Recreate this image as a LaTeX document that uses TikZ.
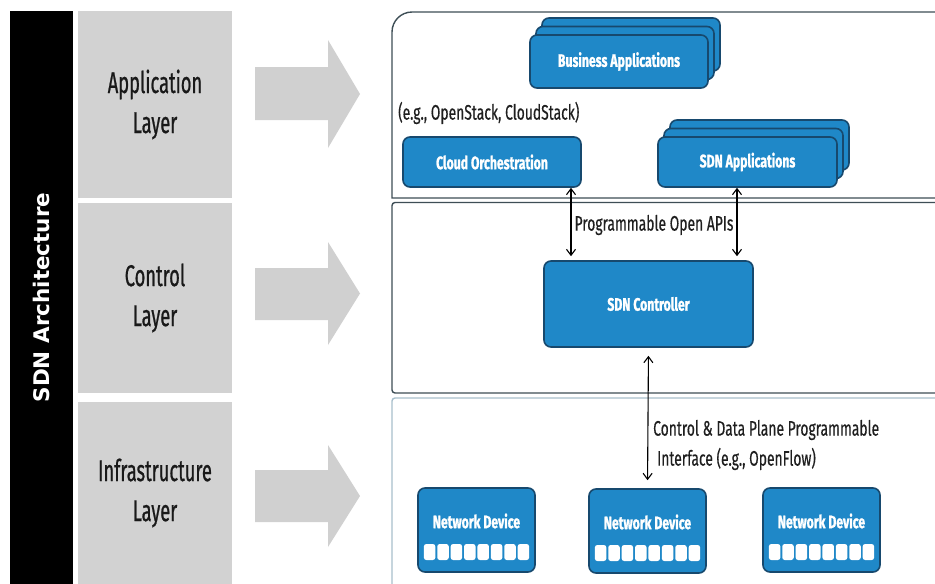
\documentclass[tikz,border=0pt]{standalone}
\usepackage{fontspec}
\setmainfont{Fira Sans}
\newfontfamily\boxfont[FakeStretch=0.68,FakeBold=1.2]{Fira Sans}
\newfontfamily\notefont[FakeStretch=0.66,FakeBold=0.4]{Fira Sans}
\newfontfamily\layerfont[FakeStretch=0.61,FakeBold=0.7]{Fira Sans}
\newfontfamily\widefont{DejaVu Sans}
\usetikzlibrary{arrows.meta,calc}

\definecolor{sdnblue}{HTML}{1F88C8}
\definecolor{sdnedge}{HTML}{17496E}
\definecolor{layergray}{HTML}{D2D2D2}
\definecolor{arrowgray}{HTML}{D0D0D0}
\definecolor{panelline}{HTML}{3E4E56}
\definecolor{panelblue}{HTML}{A8BFCC}

\begin{document}
\begin{tikzpicture}[x=1pt,y=-1pt,
  bluebox/.style={draw=sdnedge, line width=1.6pt, fill=sdnblue, rounded corners=7pt,
    inner sep=0pt, text=white, font=\boxfont\bfseries\fontsize{18}{20}\selectfont},
  boxtext/.style={text=white, inner sep=0pt, font=\boxfont\bfseries\fontsize{18}{20}\selectfont},
  layerbox/.style={fill=layergray, draw=none, inner sep=0pt, align=center,
    text=black!90, font=\layerfont\fontsize{30}{40}\selectfont},
  biarrow/.style={{Straight Barb[length=6pt,width=9pt]}-{Straight Barb[length=6pt,width=9pt]},
    line width=1.1pt},
  note/.style={inner sep=0pt, text=black!88, font=\notefont\fontsize{21}{30}\selectfont},
  port/.style={fill=white, rounded corners=2.5pt, minimum width=11.5pt,
    minimum height=16pt, inner sep=0pt},
  layerarrow/.style={fill=arrowgray, draw=none}
]
\useasboundingbox (0,0) rectangle (935,584);
\fill[white] (0,0) rectangle (935,584);

% left title bar
\node[fill=black, minimum width=63pt, minimum height=573pt, inner sep=0pt] (bar) at (41.5,297.5) {};
\node[rotate=90, text=white, font=\widefont\bfseries\fontsize{21.5}{24}\selectfont] (title) at (bar.center) {SDN Architecture};

% layer labels
\node[layerbox, minimum width=154pt, minimum height=187pt] (app) at (155,104.5) {Application\\Layer};
\node[layerbox, minimum width=154pt, minimum height=190pt] (ctl) at (155,298) {Control\\Layer};
\node[layerbox, minimum width=154pt, minimum height=182pt] (inf) at (155,493) {Infrastructure\\Layer};

% broad arrows pointing at each layer
\fill[layerarrow] (255,67) -- (328,67) -- (328,40) -- (360,94) -- (328,148) -- (328,120) -- (255,120) -- cycle;
\fill[layerarrow] (255,268) -- (328,268) -- (328,242) -- (360,293.5) -- (328,345) -- (328,320) -- (255,320) -- cycle;
\fill[layerarrow] (255,470) -- (328,470) -- (328,445) -- (360,496) -- (328,547) -- (328,522) -- (255,522) -- cycle;

% layer panels
\begin{scope}
\clip (0,0) rectangle (935,584);
\draw[panelline, line width=1.4pt] (940,12) -- (412,12) arc[start angle=270, end angle=180, radius=20] -- (392,198) -- (940,198);
\draw[panelline, line width=1.4pt, rounded corners=3pt] (940,202.5) -- (392,202.5) -- (392,393) -- (940,393);
\draw[panelblue, line width=1.4pt, rounded corners=3pt] (940,398) -- (392,398) -- (392,590);
\end{scope}

% application layer
\node[bluebox, minimum width=178pt, minimum height=53pt] (ba3) at (631,44.5) {};
\node[bluebox, minimum width=178pt, minimum height=53pt] (ba2) at (625,53) {};
\node[bluebox, minimum width=178pt, minimum height=53pt] (ba) at (619,61.5) {Business Applications};

\node[note, anchor=west] (eg) at (398,113) {(e.g., OpenStack, CloudStack)};
\node[bluebox, minimum width=178pt, minimum height=50pt] (co) at (492,162) {Cloud Orchestration};

\node[bluebox, minimum width=179pt, minimum height=50pt] (sa3) at (759.5,145) {};
\node[bluebox, minimum width=179pt, minimum height=50pt] (sa2) at (753.5,153.5) {};
\node[bluebox, minimum width=179pt, minimum height=50pt] (sa) at (747.5,162) {SDN Applications};

% control layer
\node[bluebox, minimum width=209pt, minimum height=86pt] (sdnc) at (648.5,304) {SDN Controller};

\coordinate (xa) at (571,0);
\coordinate (xb) at (737,0);
\draw[biarrow, shorten >=4pt] (co.south -| xa) -- (sdnc.north -| xa);
\draw[biarrow, shorten >=4pt] (sa.south -| xb) -- (sdnc.north -| xb);
\node[note] (api) at (654,225) {Programmable Open APIs};

% infrastructure layer
\foreach \n/\cx/\cy in {nd1/476.5/530, nd2/647.5/531, nd3/821.5/530}{
  \node[bluebox, minimum width=117pt, minimum height=84pt] (\n) at (\cx,\cy) {};
  \node[boxtext] (\n-t) at ($(\n.center)+(0,-9)$) {Network Device};
  \foreach \i in {0,...,7}
    \node[port] (\n-p\i) at ($(\n.center)+(-46.9+\i*13.4,22)$) {};
}

\draw[biarrow, shorten <=8pt, shorten >=8pt] (sdnc.south) -- (nd2.north);
\node[note, anchor=west, align=left] (cdp) at (653,445) {Control \& Data Plane Programmable\\\hspace*{4pt}Interface (e.g., OpenFlow)};
\end{tikzpicture}
\end{document}
